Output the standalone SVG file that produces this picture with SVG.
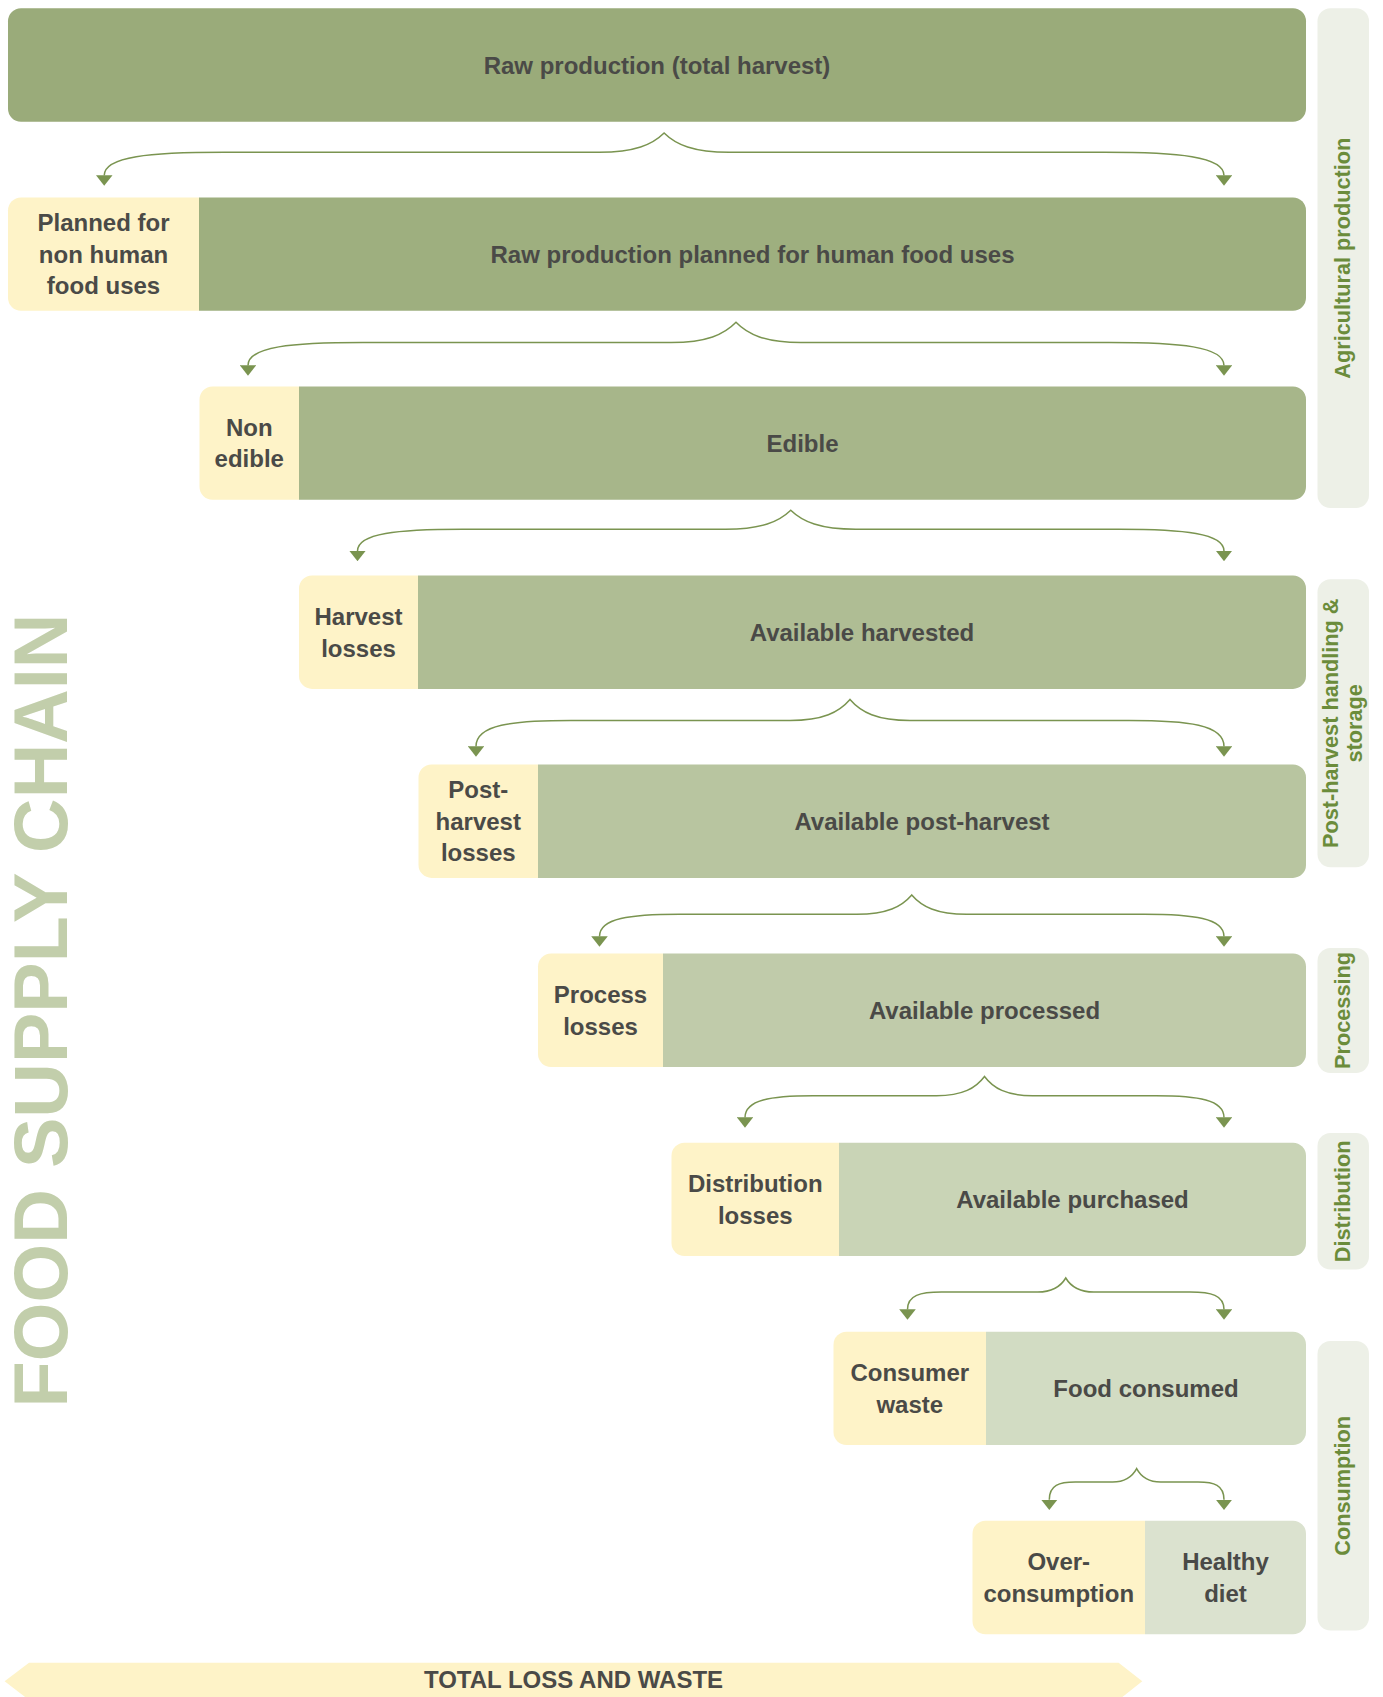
<svg xmlns="http://www.w3.org/2000/svg" width="1383" height="1697" viewBox="0 0 1383 1697">
<style>
.t{font-family:"Liberation Sans",Arial,sans-serif;font-weight:bold;font-size:24px;fill:#4a4a47;text-anchor:middle}
.s{font-family:"Liberation Sans",Arial,sans-serif;font-weight:bold;font-size:21.7px;fill:#6b8c3b;text-anchor:middle}
.y{fill:#fef3c8}
.side{fill:#edf0e7}
.br{fill:none;stroke:#7a9450;stroke-width:1.5;marker-start:url(#ah);marker-end:url(#ah)}
</style>
<defs>
<marker id="ah" viewBox="0 0 10.5 16.6" refX="0.3" refY="8.3" markerWidth="10.5" markerHeight="16.6" markerUnits="userSpaceOnUse" orient="auto-start-reverse">
<path d="M0,0 L10.5,8.3 L0,16.6 Z" fill="#7a9450"/>
</marker>
</defs>
<rect width="1383" height="1697" fill="#ffffff"/>

<g id="title">
<text transform="translate(67,1010.5) rotate(-90)" font-family="Liberation Sans, Arial, sans-serif" font-weight="bold" font-size="75.6" fill="#c2ceab" text-anchor="middle">FOOD SUPPLY CHAIN</text>
</g>

<g id="stage-agricultural">
<rect class="side" x="1317.5" y="8.3" width="51.5" height="499.7" rx="13"/>
<text class="s" transform="translate(1350,258.2) rotate(-90)">Agricultural production</text>
</g>
<g id="stage-postharvest">
<rect class="side" x="1317.5" y="579.3" width="51.5" height="288" rx="13"/>
<text class="s" transform="translate(1337.5,723.3) rotate(-90)">Post-harvest handling &amp;</text>
<text class="s" transform="translate(1361.5,723.3) rotate(-90)">storage</text>
</g>
<g id="stage-processing">
<rect class="side" x="1317.5" y="948" width="51.5" height="125" rx="13"/>
<text class="s" transform="translate(1350,1010.5) rotate(-90)">Processing</text>
</g>
<g id="stage-distribution">
<rect class="side" x="1317.5" y="1133" width="51.5" height="136.6" rx="13"/>
<text class="s" transform="translate(1350,1201.3) rotate(-90)">Distribution</text>
</g>
<g id="stage-consumption">
<rect class="side" x="1317.5" y="1341" width="51.5" height="289.6" rx="13"/>
<text class="s" transform="translate(1350,1485.8) rotate(-90)">Consumption</text>
</g>

<g id="row1">
<rect x="8" y="8.3" width="1298" height="113.4" rx="13" fill="#9aab7a"/>
<text class="t" x="657" y="73.6">Raw production (total harvest)</text>
</g>

<g id="row2">
<path class="y" d="M199,197.4 H21 A13,13 0 0 0 8,210.4 V297.8 A13,13 0 0 0 21,310.8 H199 Z"/>
<path fill="#9eaf7f" d="M199,197.4 H1293 A13,13 0 0 1 1306,210.4 V297.8 A13,13 0 0 1 1293,310.8 H199 Z"/>
<text class="t" x="103.5" y="231.2">Planned for</text>
<text class="t" x="103.5" y="262.7">non human</text>
<text class="t" x="103.5" y="294.2">food uses</text>
<text class="t" x="752.5" y="262.7">Raw production planned for human food uses</text>
</g>

<g id="row3">
<path class="y" d="M299,386.4 H212.5 A13,13 0 0 0 199.5,399.4 V486.8 A13,13 0 0 0 212.5,499.8 H299 Z"/>
<path fill="#a7b68a" d="M299,386.4 H1293 A13,13 0 0 1 1306,399.4 V486.8 A13,13 0 0 1 1293,499.8 H299 Z"/>
<text class="t" x="249.25" y="435.95">Non</text>
<text class="t" x="249.25" y="467.45">edible</text>
<text class="t" x="802.5" y="451.7">Edible</text>
</g>

<g id="row4">
<path class="y" d="M418,575.5 H312 A13,13 0 0 0 299,588.5 V675.9 A13,13 0 0 0 312,688.9 H418 Z"/>
<path fill="#afbd94" d="M418,575.5 H1293 A13,13 0 0 1 1306,588.5 V675.9 A13,13 0 0 1 1293,688.9 H418 Z"/>
<text class="t" x="358.5" y="625.05">Harvest</text>
<text class="t" x="358.5" y="656.55">losses</text>
<text class="t" x="862" y="640.8">Available harvested</text>
</g>

<g id="row5">
<path class="y" d="M538,764.5 H431.5 A13,13 0 0 0 418.5,777.5 V864.9 A13,13 0 0 0 431.5,877.9 H538 Z"/>
<path fill="#b8c5a0" d="M538,764.5 H1293 A13,13 0 0 1 1306,777.5 V864.9 A13,13 0 0 1 1293,877.9 H538 Z"/>
<text class="t" x="478.25" y="798.3">Post-</text>
<text class="t" x="478.25" y="829.8">harvest</text>
<text class="t" x="478.25" y="861.3">losses</text>
<text class="t" x="922" y="829.8">Available post-harvest</text>
</g>

<g id="row6">
<path class="y" d="M663,953.6 H551 A13,13 0 0 0 538,966.6 V1054 A13,13 0 0 0 551,1067 H663 Z"/>
<path fill="#c0cbaa" d="M663,953.6 H1293 A13,13 0 0 1 1306,966.6 V1054 A13,13 0 0 1 1293,1067 H663 Z"/>
<text class="t" x="600.5" y="1003.15">Process</text>
<text class="t" x="600.5" y="1034.65">losses</text>
<text class="t" x="984.5" y="1018.9">Available processed</text>
</g>

<g id="row7">
<path class="y" d="M839,1142.7 H684.5 A13,13 0 0 0 671.5,1155.7 V1243.1 A13,13 0 0 0 684.5,1256.1 H839 Z"/>
<path fill="#c9d4b6" d="M839,1142.7 H1293 A13,13 0 0 1 1306,1155.7 V1243.1 A13,13 0 0 1 1293,1256.1 H839 Z"/>
<text class="t" x="755.25" y="1192.25">Distribution</text>
<text class="t" x="755.25" y="1223.75">losses</text>
<text class="t" x="1072.5" y="1208">Available purchased</text>
</g>

<g id="row8">
<path class="y" d="M986,1331.7 H846.5 A13,13 0 0 0 833.5,1344.7 V1432.1 A13,13 0 0 0 846.5,1445.1 H986 Z"/>
<path fill="#d2dcc3" d="M986,1331.7 H1293 A13,13 0 0 1 1306,1344.7 V1432.1 A13,13 0 0 1 1293,1445.1 H986 Z"/>
<text class="t" x="909.75" y="1381.25">Consumer</text>
<text class="t" x="909.75" y="1412.75">waste</text>
<text class="t" x="1146" y="1397">Food consumed</text>
</g>

<g id="row9">
<path class="y" d="M1145,1520.8 H985.5 A13,13 0 0 0 972.5,1533.8 V1621.2 A13,13 0 0 0 985.5,1634.2 H1145 Z"/>
<path fill="#dbe2cf" d="M1145,1520.8 H1293 A13,13 0 0 1 1306,1533.8 V1621.2 A13,13 0 0 1 1293,1634.2 H1145 Z"/>
<text class="t" x="1058.75" y="1570.35">Over-</text>
<text class="t" x="1058.75" y="1601.85">consumption</text>
<text class="t" x="1225.5" y="1570.35">Healthy</text>
<text class="t" x="1225.5" y="1601.85">diet</text>
</g>

<g id="total-loss">
<polygon class="y" points="4.6,1681.3 29,1662.7 1118.6,1662.7 1142.3,1681.3 1118.6,1700 29,1700"/>
<text class="t" x="573.5" y="1688.3">TOTAL LOSS AND WASTE</text>
</g>

<g id="connectors">
<path class="br" d="M104.2,175.5 C104.2,156.3 149.8,152.3 224.2,152.3 H599.1 C634.85,152.3 652.4,144.6 664.1,133 C675.8,144.6 693.35,152.3 729.1,152.3 H1104 C1178.4,152.3 1224,156.3 1224,175.5"/>
<path class="br" d="M248,365.5 C248,346.5 291.7,342.5 363,342.5 H671 C706.75,342.5 724.3,334.4 736,322.3 C747.7,334.4 765.25,342.5 801,342.5 H1109 C1180.3,342.5 1224,346.5 1224,365.5"/>
<path class="br" d="M357.5,551 C357.5,533.3 397.4,529.3 462.5,529.3 H725.75 C761.5,529.3 779.05,521.7 790.75,510.3 C802.45,521.7 820,529.3 855.75,529.3 H1119 C1184.1,529.3 1224,533.3 1224,551"/>
<path class="br" d="M476,746.5 C476,724.5 512.1,720.5 571,720.5 H790 C823,720.5 839.2,712.1 850,699.5 C860.8,712.1 877,720.5 910,720.5 H1129 C1187.9,720.5 1224,724.5 1224,746.5"/>
<path class="br" d="M599.5,936.5 C599.5,918.3 629.9,914.3 679.5,914.3 H856.75 C887,914.3 901.85,906.6 911.75,895 C921.65,906.6 936.5,914.3 966.75,914.3 H1144 C1193.6,914.3 1224,918.3 1224,936.5"/>
<path class="br" d="M745,1117.5 C745,1099.7 770.8,1095.7 813,1095.7 H936.5 C962.9,1095.7 975.9,1088 984.5,1076.5 C993.1,1088 1006.1,1095.7 1032.5,1095.7 H1156 C1198.2,1095.7 1224,1099.7 1224,1117.5"/>
<path class="br" d="M907.5,1309.5 C907.5,1295 920.4,1292 941.5,1292 H1037.75 C1053.15,1292 1060.75,1286.4 1065.75,1278 C1070.75,1286.4 1078.35,1292 1093.75,1292 H1190 C1211.1,1292 1224,1295 1224,1309.5"/>
<path class="br" d="M1049.3,1499.8 C1049.3,1485 1059.2,1482 1075.3,1482 H1112.65 C1125.85,1482 1132.35,1476.6 1136.65,1468.6 C1140.95,1476.6 1147.45,1482 1160.65,1482 H1198 C1214.1,1482 1224,1485 1224,1499.8"/>
</g>
</svg>
